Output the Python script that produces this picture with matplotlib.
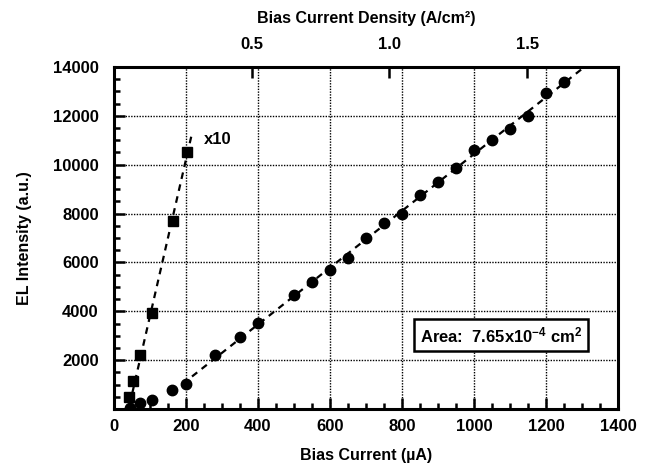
import numpy as np
import matplotlib
matplotlib.use("Agg")
import matplotlib.pyplot as plt
from matplotlib import font_manager as fm
from matplotlib.ticker import MultipleLocator, FixedLocator

# pick a sans family that actually has a bold face installed
fam = 'DejaVu Sans'
for cand in ['Liberation Sans', 'Arimo', 'Roboto', 'Open Sans', 'Noto Sans', 'Lato', 'Inter']:
    if any(f.name == cand and (f.weight in ('bold', 700) or str(f.weight) in ('700', 'bold'))
           for f in fm.fontManager.ttflist):
        fam = cand
        break

plt.rcParams['font.family'] = [fam, 'DejaVu Sans']
plt.rcParams['font.weight'] = 'bold'
plt.rcParams['axes.labelweight'] = 'bold'
plt.rcParams['mathtext.fontset'] = 'custom'
plt.rcParams['mathtext.rm'] = fam + ':bold'
plt.rcParams['mathtext.bf'] = fam + ':bold'
plt.rcParams['mathtext.default'] = 'bf'

# Data
circ_x = [45, 72, 105, 160, 200, 280, 350, 400, 500, 550, 600, 650, 700,
          750, 800, 850, 900, 950, 1000, 1050, 1100, 1150, 1200, 1250]
circ_y = [50, 230, 370, 780, 1020, 2210, 2935, 3510, 4670, 5180, 5700, 6200,
          6990, 7600, 7990, 8740, 9280, 9850, 10600, 11010, 11450, 11980, 12950, 13400]
sq_x = [42, 54, 72, 105, 163, 202]
sq_y = [500, 1160, 2210, 3920, 7700, 10500]
area_cm2 = 7.65e-4
top_ticks = [0.5, 1.0, 1.5]

fig = plt.figure(figsize=(6.51, 4.68), dpi=100)
ax = fig.add_axes([114/651, 1-409/468, (618-114)/651, (409-67)/468])

# fit lines
cx = np.array(circ_x); cy = np.array(circ_y)
m = cx >= 200
p1 = np.polyfit(cx[m], cy[m], 1)
xl = np.array([190, 1300])
ax.plot(xl, np.polyval(p1, xl), ls=(0, (3, 2.5)), color='black', lw=1.6, zorder=2)
p2 = np.polyfit(sq_x[2:], sq_y[2:], 1)
xl2 = np.array([43, 216])
ax.plot(xl2, np.polyval(p2, xl2), ls=(0, (3, 2.5)), color='black', lw=1.6, zorder=2)

ax.plot(circ_x, circ_y, 'o', color='black', ms=7.5, zorder=3)
ax.plot(sq_x, sq_y, 's', color='black', ms=7, zorder=3)

ax.set_xlim(0, 1400)
ax.set_ylim(0, 14000)
ax.xaxis.set_major_locator(MultipleLocator(200))
ax.xaxis.set_minor_locator(MultipleLocator(50))
ax.yaxis.set_major_locator(FixedLocator([2000, 4000, 6000, 8000, 10000, 12000, 14000]))
ax.yaxis.set_minor_locator(MultipleLocator(500))
ax.tick_params(which='both', direction='in', width=1.8, labelsize=12, top=False, right=False)
ax.tick_params(which='major', length=8)
ax.tick_params(which='minor', length=4.5)
ax.tick_params(axis='x', which='major', pad=7)
ax.tick_params(axis='y', which='major', pad=11)
ax.grid(True, which='major', ls=(0, (1, 1)), color='black', lw=1.0)
for s in ax.spines.values():
    s.set_linewidth(2.2)

ax.set_xlabel('Bias Current (µA)', fontsize=11.5, fontweight='bold', labelpad=10)
ax.set_ylabel('EL Intensity (a.u.)', fontsize=11.5, fontweight='bold', labelpad=15)

sec = ax.secondary_xaxis('top', functions=(lambda i: i*1e-6/area_cm2, lambda j: j*area_cm2/1e-6))
sec.set_xticks(top_ticks)
sec.set_xticklabels(['0.5', '1.0', '1.5'])
sec.tick_params(direction='in', length=8, width=1.8, labelsize=12, pad=11)
sec.set_xlabel('Bias Current Density (A/cm²)', fontsize=11.5, fontweight='bold', labelpad=10)

ax.text(0.179, 0.787, 'x10', transform=ax.transAxes, fontsize=12, fontweight='bold', va='center')
ax.text(0.607, 0.216, 'Area:  7.65x10$^{-4}$ cm$^2$', transform=ax.transAxes, fontsize=12,
        fontweight='bold', va='center', ha='left',
        bbox=dict(boxstyle='square,pad=0.35', fc='white', ec='black', lw=1.8))

fig.savefig('out.png', dpi=100)
